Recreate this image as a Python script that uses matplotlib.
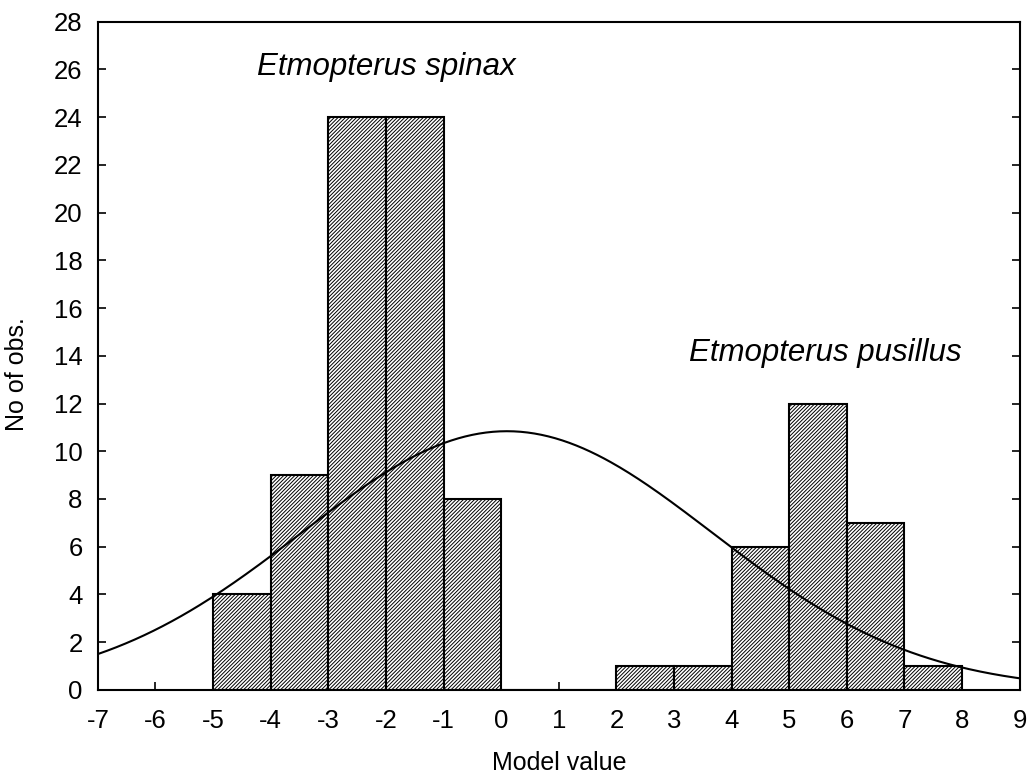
import numpy as np
import matplotlib
matplotlib.use("Agg")
import matplotlib.pyplot as plt

# ---- Data ----
bin_edges = [-5, -4, -3, -2, -1, 0, 1, 2, 3, 4, 5, 6, 7, 8]
counts = [4, 9, 24, 24, 8, 0, 0, 1, 1, 6, 12, 7, 1]

# fitted normal curve (parameters)
fit_mean = 0.1
fit_sd = 3.57

x_ticks = list(range(-7, 10))
y_ticks = list(range(0, 30, 2))

plt.rcParams["font.family"] = ["Liberation Sans", "DejaVu Sans"]
plt.rcParams["axes.unicode_minus"] = False
plt.rcParams["hatch.linewidth"] = 0.7
plt.rcParams["hatch.color"] = "#666666"

fig = plt.figure(figsize=(10.3, 7.76), dpi=100)
ax = fig.add_axes([0.095, 0.111, 0.895, 0.861])

edges = np.array(bin_edges)
ax.bar(edges[:-1], counts, width=np.diff(edges), align="edge",
       facecolor="white", edgecolor="black", linewidth=1.5, hatch="/" * 9)

# normal curve scaled to counts (bin width 1)
n_total = sum(counts)
xs = np.linspace(-7, 9, 400)
ys = n_total * 1.0 / (fit_sd * np.sqrt(2 * np.pi)) * np.exp(-(xs - fit_mean) ** 2 / (2 * fit_sd ** 2))
ax.plot(xs, ys, color="black", linewidth=1.5)

ax.set_xlim(-7, 9)
ax.set_ylim(0, 28)
ax.set_xticks(x_ticks)
ax.set_yticks(y_ticks)
ax.tick_params(direction="in", length=6, width=1.2, labelsize=18.5,
               right=True, top=False)
ax.tick_params(axis="x", pad=14)
ax.tick_params(axis="y", pad=11)
for s in ax.spines.values():
    s.set_linewidth(1.5)

ax.set_xlabel("Model value", fontsize=18)
ax.set_ylabel("No of obs.", fontsize=18)
ax.xaxis.set_label_coords(0.5, -0.092)
ax.yaxis.set_label_coords(-0.075, 0.472)

ax.text(-2.0, 26.1, "Etmopterus spinax", style="italic", fontsize=22.5,
        ha="center", va="center")
ax.text(5.62, 14.1, "Etmopterus pusillus", style="italic", fontsize=22.5,
        ha="center", va="center")

fig.savefig("out.png", dpi=100)
plt.close(fig)
